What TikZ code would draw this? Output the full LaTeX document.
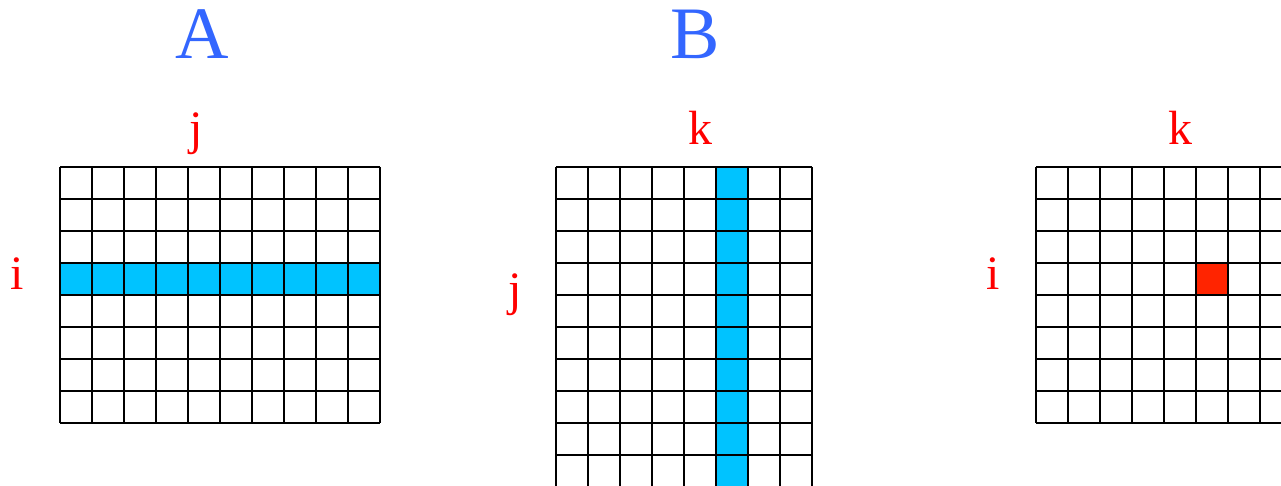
\documentclass[tikz,border=0pt]{standalone}
\usepackage{fontspec}
\setmainfont{Liberation Serif}
\usepackage{tikz}
\definecolor{labelblue}{HTML}{3366FF}
\definecolor{idxred}{HTML}{FF0000}
\definecolor{rowcyan}{HTML}{00C3FF}
\definecolor{cellred}{HTML}{FF2400}

\begin{document}
\begin{tikzpicture}[x=1pt,y=-1pt,
 gridline/.style={draw=black,line width=1.3pt},
 matname/.style={text=labelblue,inner sep=0pt,anchor=base,font=\fontsize{74}{80}\selectfont},
 idxname/.style={text=idxred,inner sep=0pt,anchor=base,font=\fontsize{48}{52}\selectfont}]
\clip (0,0) rectangle (1281,486);
\useasboundingbox (0,0) rectangle (1281,486);
% titles
\node[matname] (titleA) at (202,59) {A};
\node[matname] (titleB) at (695,59) {B};
% index letters
\node[idxname] (colA) at (196,145) {j};
\node[idxname] (rowA) at (17,289) {i};
\node[idxname] (colB) at (700,145) {k};
\node[idxname] (rowB) at (515,305) {j};
\node[idxname] (colC) at (1180,145) {k};
\node[idxname] (rowC) at (993,289) {i};
% matrix A, row i
\fill[rowcyan] (60,263) rectangle (380,295);
\foreach \c in {0,...,10} \draw[gridline] ({60+32*\c},167) -- ({60+32*\c},423);
\foreach \r in {0,...,8} \draw[gridline] (60,{167+32*\r}) -- (380,{167+32*\r});
% matrix B, column k
\fill[rowcyan] (716,167) rectangle (748,500);
\foreach \c in {0,...,8} \draw[gridline] ({556+32*\c},167) -- ({556+32*\c},500);
\foreach \r in {0,...,10} \draw[gridline] (556,{167+32*\r}) -- (812,{167+32*\r});
% result C, element (i,k)
\fill[cellred] (1196,263) rectangle (1228,295);
\foreach \c in {0,...,8} \draw[gridline] ({1036+32*\c},167) -- ({1036+32*\c},423);
\foreach \r in {0,...,8} \draw[gridline] (1036,{167+32*\r}) -- (1300,{167+32*\r});
\end{tikzpicture}
\end{document}
